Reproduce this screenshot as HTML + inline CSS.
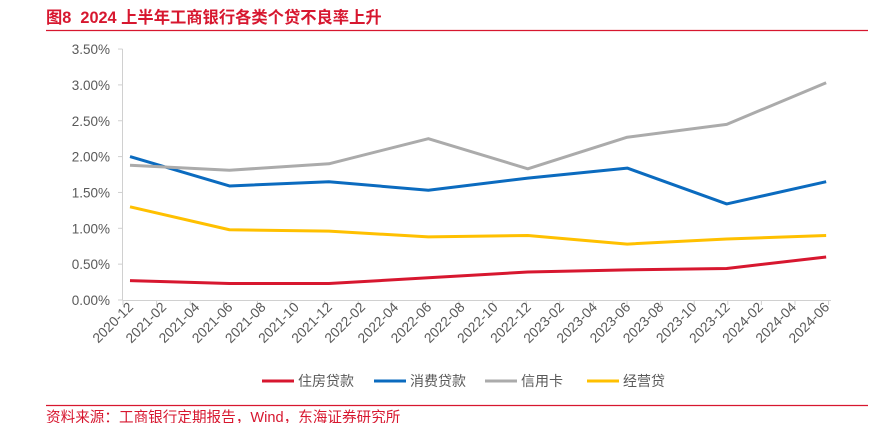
<!DOCTYPE html>
<html><head><meta charset="utf-8"><style>
body{margin:0;background:#fff;}
svg text{font-family:"Liberation Sans","Noto Sans CJK SC",sans-serif;}
</style></head><body>
<svg width="883" height="423" xmlns="http://www.w3.org/2000/svg">
<text x="46" y="23" font-size="16.3" font-weight="bold" fill="#d7172f">图8&#160; 2024 上半年工商银行各类个贷不良率上升</text>
<line x1="46" y1="30.5" x2="868" y2="30.5" stroke="#d7172f" stroke-width="1.2"/>
<g id="yaxis"></g>
<g id="xaxis"></g>
<g id="series"></g>
<g id="legend"></g>
<line x1="46" y1="405.5" x2="868" y2="405.5" stroke="#d7172f" stroke-width="1.2"/>
<text x="46" y="422" font-size="14.6" fill="#d7172f">资料来源：工商银行定期报告，Wind，东海证券研究所</text>
</svg>
<script>
const xLabels=["2020-12","2021-02","2021-04","2021-06","2021-08","2021-10","2021-12","2022-02","2022-04","2022-06","2022-08","2022-10","2022-12","2023-02","2023-04","2023-06","2023-08","2023-10","2023-12","2024-02","2024-04","2024-06"];
const pointIdx=[0,3,6,9,12,15,18,21];
const yTicks=[0,0.5,1,1.5,2,2.5,3,3.5];
const housing=[0.27,0.23,0.23,0.31,0.39,0.42,0.44,0.60];
const consumer=[2.00,1.59,1.65,1.53,1.70,1.84,1.34,1.65];
const card=[1.88,1.81,1.90,2.25,1.83,2.27,2.45,3.03];
const business=[1.30,0.98,0.96,0.88,0.90,0.78,0.85,0.90];
const names=["住房贷款","消费贷款","信用卡","经营贷"];
const colors=["#d7172f","#0b6bbf","#ababab","#ffc000"];
const NS="http://www.w3.org/2000/svg";
const X=i=>130+33.15*i, Y=v=>300-v*71.7;
function mk(t,a,p){const e=document.createElementNS(NS,t);for(const k in a)e.setAttribute(k,a[k]);p.appendChild(e);return e;}
const ya=document.getElementById('yaxis'),xa=document.getElementById('xaxis'),se=document.getElementById('series'),lg=document.getElementById('legend');
mk('line',{x1:122.5,y1:Y(3.5),x2:122.5,y2:300,stroke:'#d0d0d0'},ya);
yTicks.forEach(v=>{mk('line',{x1:118,y1:Y(v),x2:122.5,y2:Y(v),stroke:'#d0d0d0'},ya);
const t=mk('text',{x:110,y:Y(v)+5,'font-size':13.5,fill:'#595959','text-anchor':'end'},ya);t.textContent=v.toFixed(2)+'%';

});
mk('line',{x1:122.5,y1:300.5,x2:831,y2:300.5,stroke:'#d0d0d0'},xa);
for(let k=0;k<=21;k++){mk('line',{x1:123+33.6*k,y1:300,x2:123+33.6*k,y2:305,stroke:'#d0d0d0'},xa);}
xLabels.forEach((l,i)=>{const x=X(i)+4,y=308;const t=mk('text',{x:x,y:y,'font-size':13.8,fill:'#595959','text-anchor':'end',transform:`rotate(-45 ${x} ${y})`},xa);t.textContent=l;

});
[housing,consumer,card,business].forEach((s,j)=>{const p=mk('polyline',{points:s.map((v,i)=>X(pointIdx[i])+','+Y(v)).join(' '),fill:'none',stroke:colors[j],'stroke-width':3,'stroke-linejoin':'round'},se);

});
const lx=[262,374,485,587];
names.forEach((n,j)=>{const g=mk('g',{},lg);


mk('line',{x1:lx[j],y1:381,x2:lx[j]+32,y2:381,stroke:colors[j],'stroke-width':3},g);
const t=mk('text',{x:lx[j]+36,y:386,'font-size':14,fill:'#595959'},g);t.textContent=n;});
</script>
</body></html>
